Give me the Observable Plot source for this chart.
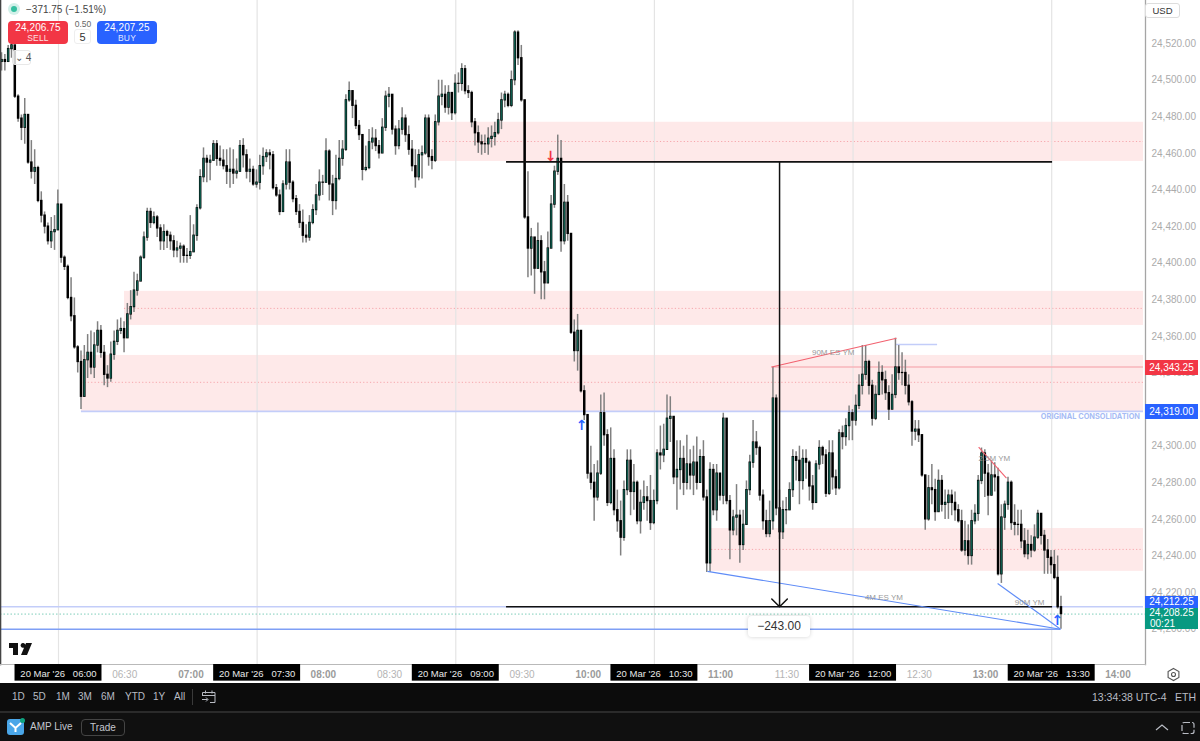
<!DOCTYPE html>
<html><head><meta charset="utf-8">
<script src="https://cdn.jsdelivr.net/npm/d3@7"></script>
<script src="https://cdn.jsdelivr.net/npm/@observablehq/plot@0.6"></script>
<style>
html,body{margin:0;padding:0;background:#fff}
#page{position:relative;width:1200px;height:741px;overflow:hidden;font-family:"Liberation Sans",Arial,sans-serif}
#chart svg{display:block}
.abs{position:absolute;white-space:nowrap;box-sizing:border-box}
.pill{position:absolute;left:1145px;width:53px;color:#fff;font-size:10px;text-align:center}
.btn{position:absolute;top:21px;width:60px;height:23px;border-radius:4px;color:#fff;text-align:center;font-size:10px;line-height:11px;padding-top:1px;box-sizing:border-box;letter-spacing:.1px}
.btn span{display:block;font-size:8.5px;opacity:.85;letter-spacing:.2px}
#bar1{position:absolute;left:0;top:683px;width:1200px;height:28px;background:#0c0c0c;color:#b9bcc4;font-size:10px;line-height:28px}
#bar2{position:absolute;left:0;top:713px;width:1200px;height:28px;background:#101010;color:#b9bcc4;font-size:10px;line-height:28px}
#sep{position:absolute;left:0;top:711px;width:1200px;height:2px;background:#2b2b2b}
</style></head>
<body>
<div id="page">
<div id="chart"></div>

<div class="abs" style="left:8px;top:3px;width:12px;height:12px;border-radius:50%;background:#d2f0e9"></div>
<div class="abs" style="left:11px;top:6px;width:6px;height:6px;border-radius:50%;background:#35bfa0"></div>
<div class="abs" style="left:26px;top:2px;font-size:10px;color:#444;line-height:15px">−371.75 (−1.51%)</div>
<div class="btn" style="left:8px;background:#f23645">24,206.75<span>SELL</span></div>
<div class="abs" style="left:72px;top:20px;width:22px;text-align:center;font-size:8.5px;color:#666;line-height:9px">0.50</div>
<div class="abs" style="left:74px;top:29px;width:17px;height:15px;border:1px solid #eee;border-radius:3px;text-align:center;font-size:11px;line-height:14px;color:#333;background:#fff">5</div>
<div class="btn" style="left:97px;background:#2962ff">24,207.25<span>BUY</span></div>
<div class="abs" style="left:12px;top:50px;width:19px;height:15px;border:1px solid #e8e8e8;border-radius:3px;font-size:10px;line-height:13px;color:#555;padding-left:2px;background:rgba(255,255,255,.8)">⌄&nbsp;4</div>

<div class="abs" style="left:1145px;top:3px;width:35px;height:15px;border:1px solid #ddd;border-radius:3px;font-size:9.5px;line-height:13px;text-align:center;color:#333;background:#fff">USD</div>

<div class="pill" style="top:360px;height:15px;line-height:15px;background:#f23645">24,343.25</div>
<div class="pill" style="top:404px;height:15px;line-height:15px;background:#2962ff">24,319.00</div>
<div class="pill" style="top:596px;height:12px;line-height:12px;background:#2962ff">24,212.25</div>
<div class="pill" style="top:608px;height:21px;line-height:10.5px;background:#089981;padding-top:0">24,208.25<br><span style="display:block;text-align:left;padding-left:5px">00:21</span></div>

<div class="abs" style="left:748px;top:616px;width:62px;height:21px;background:#fff;border-radius:4px;box-shadow:0 0 4px rgba(0,0,0,.18);font-size:12px;line-height:21px;text-align:center;color:#333">−243.00</div>

<svg class="abs" style="left:9px;top:642px" width="24" height="14" viewBox="0 0 24 14"><path d="M0 1h9v12H4V6H0z M14 1a2.4 2.4 0 1 1-.01 0z M17 1h6l-5 12h-6z" fill="#111"/></svg>
<svg class="abs" style="left:1166px;top:667px" width="15" height="15" viewBox="0 0 15 15"><path d="M7.5 1.5l5.4 3v6l-5.4 3-5.4-3v-6z" fill="none" stroke="#555" stroke-width="1.1"/><circle cx="7.5" cy="7.5" r="2" fill="none" stroke="#555" stroke-width="1.1"/></svg>

<div id="bar1">
<span class="abs" style="left:12px">1D</span><span class="abs" style="left:33px">5D</span><span class="abs" style="left:56px">1M</span><span class="abs" style="left:78px">3M</span><span class="abs" style="left:101px">6M</span><span class="abs" style="left:125px">YTD</span><span class="abs" style="left:153px">1Y</span><span class="abs" style="left:174px">All</span>
<div class="abs" style="left:192px;top:6px;width:1px;height:16px;background:#3a3a3a"></div>
<svg class="abs" style="left:201px;top:6px" width="16" height="16" viewBox="0 0 16 16"><path d="M1.5 7V3.5h12.5v10H9 M1.5 6.5H14 M4.5 1.5v3 M11 1.5v3 M1 10.5h5.5 M5 8.5l2 2-2 2" fill="none" stroke="#b9bcc4" stroke-width="1"/></svg>
<span class="abs" style="left:1092px;font-size:10.5px">13:34:38 UTC-4</span><span class="abs" style="left:1175px;font-size:10.5px">ETH</span>
</div>
<div id="sep"></div>
<div id="bar2">
<div class="abs" style="left:7px;top:6px;width:17px;height:16px;border-radius:3px;background:#4aa6e8"></div>
<div class="abs" style="left:20px;top:5px;width:5px;height:5px;border-radius:50%;background:#0fa37f"></div>
<svg class="abs" style="left:9px;top:9px" width="13" height="11" viewBox="0 0 13 11"><path d="M1 1l5.5 5L12 1M6.5 6v4" fill="none" stroke="#fff" stroke-width="2"/></svg>
<span class="abs" style="left:30px;color:#c4c7ce">AMP Live</span>
<div class="abs" style="left:81px;top:6px;width:44px;height:17px;border:1px solid #444;border-radius:4px;line-height:15px;text-align:center;color:#c4c7ce">Trade</div>
<svg class="abs" style="left:1155px;top:8px" width="42" height="14" viewBox="0 0 42 14"><path d="M1 9l6-5 6 5" fill="none" stroke="#b9bcc4" stroke-width="1.2"/><rect x="27" y="1.5" width="12" height="11" rx="2" fill="none" stroke="#b9bcc4" stroke-width="1.2" stroke-dasharray="6 2"/></svg>
</div>
</div>

<script>
// Prices are offsets from this base
const base = 24000;
const firstBarMinute = -25.8;   // minutes after 06:00
const barStep = 1.5;

const closes = [
511,510,517,519,491,479,474,481,455,450,
452,434,426,420,412,417,418,432,403,398,
381,371,354,346,327,347,351,343,355,363,
351,339,337,350,357,363,364,359,372,376,
385,390,403,414,428,422,425,419,412,417,
415,412,407,408,409,404,404,406,415,430,
447,457,455,456,465,457,456,453,450,451,
449,450,464,459,450,451,443,444,453,458,
460,459,441,437,428,443,455,444,435,428,
422,415,414,422,429,437,444,444,461,443,
434,446,457,462,489,494,486,475,470,451,
452,466,468,464,460,474,491,492,473,464,
473,479,470,462,453,447,459,460,479,458,
456,477,491,492,485,493,482,498,498,506,
494,493,477,471,466,465,465,468,469,471,
478,489,492,486,500,526,512,489,425,408,
414,397,412,395,389,408,432,450,457,412,
433,416,362,352,363,330,317,285,280,272,
285,318,306,269,293,265,259,250,276,292,
275,280,259,269,272,270,258,270,296,295,
298,315,316,283,287,293,280,290,284,291,
280,294,272,236,287,265,285,273,315,270,
254,261,262,246,257,276,291,302,299,273,
259,252,259,326,266,253,265,265,276,294,
292,281,293,291,278,269,290,299,295,274,
296,283,277,307,305,311,318,314,322,333,
339,346,333,315,328,340,336,329,320,328,
343,340,340,333,324,308,309,306,284,260,
277,276,264,281,268,269,273,269,265,259,
243,248,240,259,263,281,296,285,273,284,
283,230,261,268,280,258,257,257,248,241,
246,243,250,263,251,243,239,235,228,212,
208.25];

const highs = [
515,514,519,521,519,492,481,490,481,467,
462,453,439,428,422,425,426,440,432,404,
399,392,381,355,352,355,361,363,362,368,
366,355,344,357,363,369,370,368,378,385,
395,394,404,417,430,430,428,426,421,421,
418,417,415,412,411,410,408,426,421,432,
451,463,459,459,467,467,464,462,462,463,
462,457,467,468,462,457,453,451,459,463,
462,462,461,443,440,445,462,462,445,437,
432,429,421,426,432,443,451,448,468,462,
448,459,467,467,492,499,493,489,478,470,
464,473,474,473,467,479,494,496,492,475,
478,485,481,475,467,462,462,464,481,481,
462,481,500,500,497,497,489,503,504,509,
508,497,494,479,475,470,470,474,475,477,
482,493,494,493,505,527,527,519,489,450,
419,412,422,415,401,417,437,453,470,467,
443,437,415,369,372,363,333,317,300,290,
292,328,329,309,310,298,276,270,281,298,
298,290,281,276,281,278,284,276,298,311,
312,328,327,314,303,303,300,306,298,300,
305,298,303,276,291,290,290,284,318,309,
273,265,279,265,265,281,295,314,308,300,
276,265,270,343,328,276,270,272,280,298,
297,300,298,298,292,284,292,303,300,298,
303,303,287,309,311,315,322,320,328,339,
355,355,347,336,333,346,344,341,333,339,
359,355,351,347,339,325,314,314,306,284,
284,290,282,287,284,276,276,276,275,268,
265,259,257,265,268,284,299,298,290,292,
291,288,268,270,283,281,268,265,265,255,
254,251,257,265,262,254,249,243,243,240,
218];

const lows = [
505,505,510,512,490,477,467,465,454,446,
443,433,422,416,410,408,407,419,400,396,
380,368,353,340,320,329,337,339,337,351,
348,333,332,335,347,355,361,351,361,369,
373,382,390,402,412,419,421,414,407,407,
408,407,403,403,400,400,400,402,406,412,
429,444,444,445,456,453,453,451,443,441,
443,446,450,452,446,444,442,441,440,448,
455,451,440,436,426,434,440,440,433,426,
419,411,411,412,421,426,434,437,444,434,
426,429,445,453,461,488,479,473,467,445,
450,451,462,461,457,462,472,485,470,459,
462,470,466,459,450,441,445,446,459,453,
451,455,475,486,482,481,478,481,493,494,
492,490,474,464,460,459,460,459,463,464,
470,473,485,485,485,497,508,488,424,392,
393,383,397,380,380,389,408,430,448,406,
410,412,361,346,341,329,314,282,276,259,
270,284,300,267,268,262,253,240,248,273,
262,265,257,252,265,259,254,257,268,287,
291,298,302,279,265,276,273,276,276,273,
276,282,270,231,231,262,259,270,268,268,
238,251,251,236,243,257,273,288,295,270,
254,250,250,254,262,249,249,257,265,272,
281,268,276,282,270,265,270,287,290,272,
273,276,273,276,298,300,303,303,311,320,
328,336,328,311,314,328,328,325,314,320,
326,336,333,328,322,300,303,302,283,254,
259,268,259,264,264,260,260,262,259,258,
242,240,235,235,257,259,279,272,262,273,
275,229,225,254,265,254,251,251,244,239,
238,239,242,249,246,230,230,230,227,211,
200];

const priceTicks = [24200,24220,24240,24260,24280,24300,24320,24340,24360,24380,24400,24420,24440,24460,24480,24500,24520];
const hourOnly = [60,120,240,300,420,480];
const halfTicks = [30,150,210,330,390];
const datedTicks = [0,90,180,270,360,450];
const dateLabel = "20 Mar '26";

const xEnd = 491.6;
const zones = [
  {x1:169.5, top:24477, bottom:24455.6, mid:24466.5},
  {x1:29.9,  top:24384.6, bottom:24366, mid:24375.3},
  {x1:10.4,  top:24349.6, bottom:24319, mid:24334.9},
  {x1:295.9, top:24255, bottom:24231.6, mid:24243.6}
];
const horizontals = [
  {x1:10.4, x2:xEnd, y:24319,    stroke:"#c3cdf9", w:1.6},
  {x1:323.1,x2:xEnd, y:24343.25, stroke:"#f7b4ba", w:1.6},
  {x1:379.7,x2:398.3,y:24355.6,  stroke:"#c3cdf9", w:1.6},
  {x1:-26.3,x2:xEnd, y:24212.25, stroke:"#c3cdf9", w:1.6},
  {x1:-26.3,x2:454,  y:24200,    stroke:"#7f9ff5", w:1.5},
  {x1:203,  x2:450.4,y:24455.4,  stroke:"#111",    w:1.7},
  {x1:203,  x2:450.4,y:24212.25, stroke:"#111",    w:1.7}
];
const trendLines = [
  {x1:323.1,y1:24343.25,x2:379.7,y2:24359, stroke:"#f2616f"},
  {x1:416.9,y1:24299.5, x2:429.5,y2:24282.5, stroke:"#f2616f"},
  {x1:294,  y1:24231.6, x2:454,  y2:24200, stroke:"#5f8cf7"},
  {x1:425.5,y1:24225,   x2:454,  y2:24200, stroke:"#5f8cf7"}
];
const notes = [
  {x:351, y:24351.5, text:"90M ES YM"},
  {x:424, y:24293.5, text:"2.5M YM"},
  {x:374, y:24217.5, text:"4M ES YM"},
  {x:440, y:24214.5, text:"90M YM"}
];
const signals = [
  {x:223,   y:24458.5, text:"↓", fill:"#f23645"},
  {x:237,   y:24311.5, text:"↑", fill:"#2962ff"},
  {x:452.6, y:24205,   text:"↑", fill:"#2962ff"}
];

const candles = closes.map((c,i) => {
  const open = base + (i ? closes[i-1] : c - 1), close = base + c;
  return {
    t: firstBarMinute + i*barStep, open, close,
    high: Math.max(base + highs[i], open, close),
    low: Math.min(base + lows[i], open, close),
    top: Math.max(open,close) + .35, bot: Math.min(open,close) - .35,
    up: close >= open
  };
});

const hhmm = m => { const t = 360 + m; return String(Math.floor(t/60)).padStart(2,"0")+":"+String(t%60).padStart(2,"0"); };
const pillHalf = 19.7, pillTop = 24180.7, pillBottom = 24171.6, labelPrice = 24175.6;
const chartFont = "'Liberation Sans', Arial, sans-serif";

const chart = Plot.plot({
  width:1200, height:684,
  marginLeft:0, marginRight:55, marginTop:0, marginBottom:20,
  style:{fontFamily:chartFont, fontSize:"10px", background:"transparent", overflow:"visible"},
  x:{type:"linear", domain:[-26.28,492.5], axis:null},
  y:{type:"linear", domain:[24180.7,24543.55], axis:null},
  marks:[
    Plot.rect(zones,{x1:"x1", x2:()=>xEnd, y1:"bottom", y2:"top", fill:"#fee9e9"}),
    Plot.ruleY(zones,{x1:"x1", x2:()=>xEnd, y:"mid", stroke:"#f6a6ac", strokeDasharray:"1.2,2.2", strokeWidth:1}),
    Plot.ruleX(datedTicks,{stroke:"#e4e4e4", strokeWidth:1.2}),
    Plot.ruleY(horizontals.slice(0,5),{x1:"x1",x2:"x2",y:"y",stroke:"stroke",strokeWidth:"w"}),
    Plot.ruleY([24208.25],{stroke:"#7fcdbb", strokeDasharray:"1.5,2", strokeWidth:1}),
    Plot.ruleX(candles,{x:"t", y1:"low", y2:"high", stroke:"#808080", strokeWidth:1.5}),
    Plot.ruleX(candles,{x:"t", y1:"bot", y2:"top", stroke:"#000", strokeWidth:2.5}),
    Plot.ruleX(candles.filter(d=>d.up),{x:"t", y1:"open", y2:"close", stroke:"#0e5a4c", strokeWidth:1.5}),
    Plot.ruleY(horizontals.slice(5),{x1:"x1",x2:"x2",y:"y",stroke:"stroke",strokeWidth:"w"}),
    Plot.link(trendLines,{x1:"x1",y1:"y1",x2:"x2",y2:"y2",stroke:"stroke",strokeWidth:1.1}),
    Plot.arrow([{x:326.7,y1:24455.4,y2:24212.25}],{x:"x",y1:"y1",y2:"y2",stroke:"#111",strokeWidth:1.5,bend:0,headAngle:90,headLength:11}),
    Plot.text(notes,{x:"x",y:"y",text:"text",fill:"#9a9a9a",fontSize:8}),
    Plot.text(signals,{x:"x",y:"y",text:"text",fill:"fill",fontSize:14,fontWeight:700,fontFamily:"DejaVu Sans"}),
    Plot.text(["ORIGINAL CONSOLIDATION"],{x:()=>490,y:()=>24316,text:d=>d,fill:"#a6bcf5",fontSize:7.4,fontWeight:700,fontFamily:"Inter",textAnchor:"end"}),
    Plot.frame({anchor:"left",stroke:"#444",strokeWidth:1.6}),
    Plot.frame({anchor:"right",stroke:"#a5a5a5",strokeWidth:1.3}),
    Plot.frame({anchor:"bottom",stroke:"#b9b9b9",strokeWidth:1.1}),
    Plot.axisY(priceTicks,{anchor:"right",tickSize:0,tickPadding:6,label:null,fill:"#ababab",fontSize:10,tickFormat:d3.format(",.2f")}),
    Plot.axisX(hourOnly,{anchor:"bottom",tickSize:0,tickPadding:6,label:null,fill:"#9a9a9a",fontWeight:700,fontSize:10,tickFormat:hhmm}),
    Plot.axisX(halfTicks,{anchor:"bottom",tickSize:0,tickPadding:6,label:null,fill:"#b4b4b4",fontSize:10,tickFormat:hhmm}),
    Plot.rect(datedTicks,{x1:d=>d-pillHalf,x2:d=>d+pillHalf,y1:()=>pillBottom,y2:()=>pillTop,fill:"#000"}),
    Plot.text(datedTicks,{x:d=>d,y:()=>labelPrice,text:d=>dateLabel+"\u00A0\u00A0\u00A0"+hhmm(d),fill:"#e8e8e8",fontSize:9.5})
  ]
});
document.getElementById("chart").append(chart);
</script>
</body></html>
